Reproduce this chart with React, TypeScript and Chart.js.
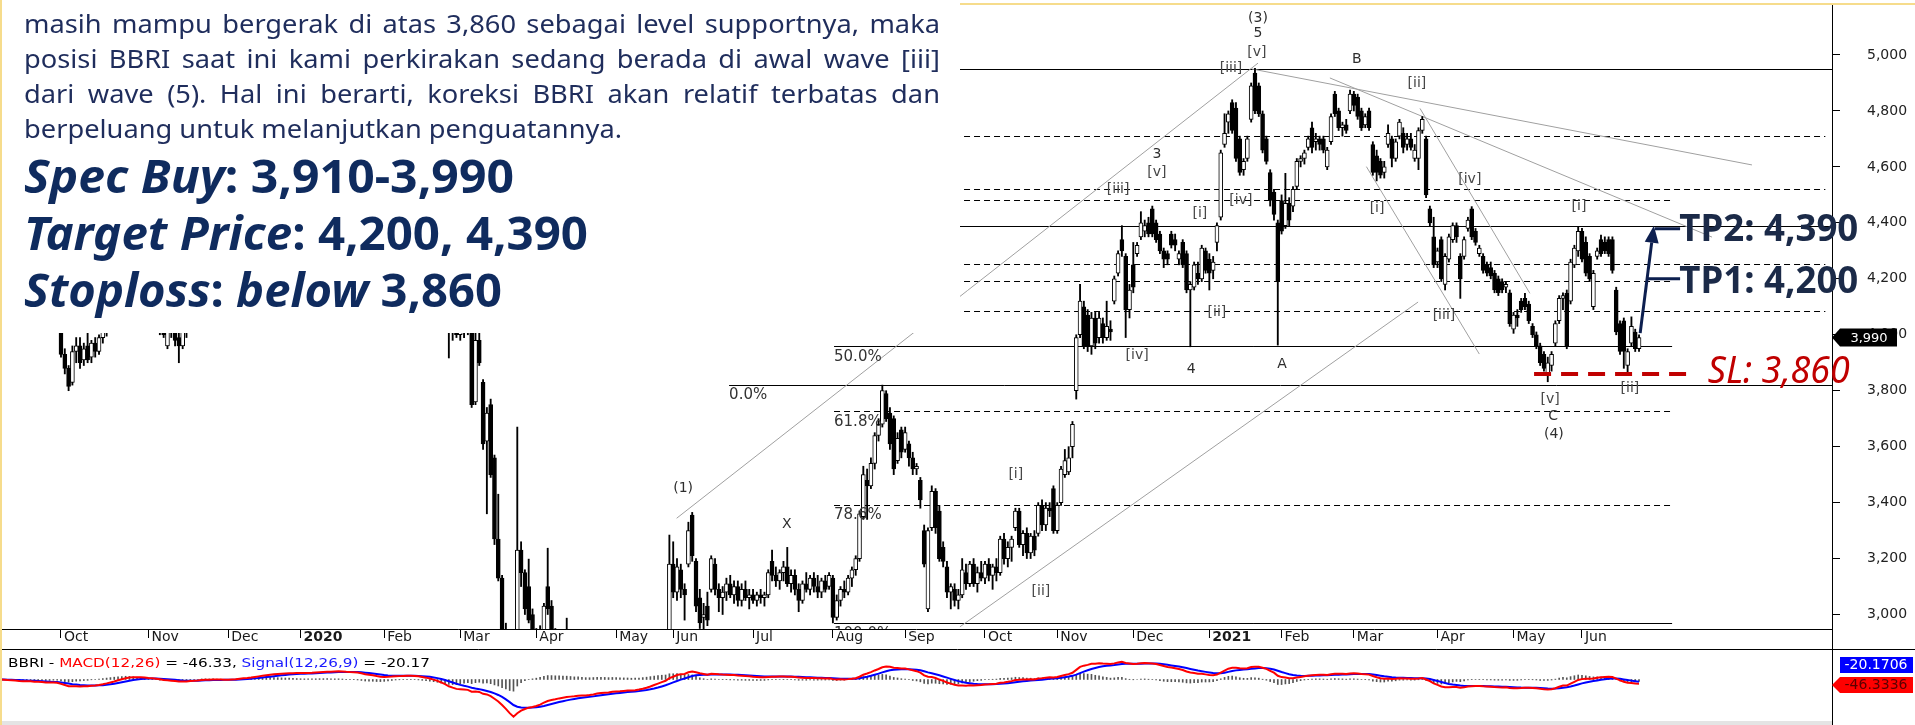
import React, { useEffect, useRef } from "react";
import { Chart, registerables } from "chart.js";
Chart.register(...registerables);

type Bar = [number, number, number, number]; // open, high, low, close

// ---------- DAILY OHLC ----------
const sep2019: Bar[] = [[4250,4290,4200,4270],[4270,4300,4220,4240],[4240,4280,4190,4210],[4210,4250,4170,4230],[4230,4260,4180,4190],[4190,4220,4130,4150],[4150,4200,4120,4180],[4180,4230,4150,4210],[4210,4240,4160,4170],[4170,4200,4120,4140],[4140,4180,4100,4160],[4160,4190,4110,4120],[4120,4150,4070,4090],[4090,4130,4050,4110],[4110,4150,4080,4130],[4130,4160,4070,4090]];
const oct2019: Bar[] = [[4080,4100,3920,3930],[3930,3950,3860,3880],[3880,3890,3800,3815],[3830,3960,3820,3940],[3940,3990,3900,3960],[3960,3990,3880,3900],[3910,3970,3890,3950],[3960,4010,3900,3910],[3920,3980,3900,3970],[3970,3990,3920,3940],[3940,4000,3930,3990],[3990,4030,3970,4020],[4020,4080,3995,4060],[4060,4110,4040,4100],[4100,4150,4080,4130],[4130,4200,4110,4180],[4180,4230,4150,4210],[4210,4260,4180,4240],[4240,4270,4190,4220],[4220,4250,4160,4180],[4180,4220,4130,4150],[4150,4190,4100,4170],[4170,4200,4110,4130]];
const nov2019: Bar[] = [[4130,4160,4070,4090],[4090,4130,4050,4110],[4110,4140,4040,4060],[4060,4090,4000,4020],[4050,4080,3990,4000],[3960,4060,3950,4040],[4040,4070,3990,4010],[4010,4050,3960,3980],[3990,4030,3900,3960],[3960,4040,3950,4020],[4020,4060,3990,4040],[4040,4090,4020,4070],[4070,4110,4040,4060],[4060,4100,4030,4090],[4090,4140,4070,4120],[4120,4150,4080,4100],[4100,4130,4050,4070],[4070,4110,4040,4090],[4090,4120,4050,4060],[4060,4100,4030,4080],[4080,4110,4010,4030]];
const dec2019: Bar[] = [[4030,4080,4010,4060],[4060,4110,4040,4100],[4100,4140,4070,4120],[4120,4170,4100,4150],[4150,4190,4120,4170],[4170,4200,4130,4160],[4160,4210,4140,4200],[4200,4260,4180,4240],[4240,4290,4220,4270],[4270,4310,4240,4290],[4290,4330,4260,4300],[4300,4350,4280,4330],[4330,4370,4300,4350],[4350,4390,4320,4370],[4370,4400,4330,4360],[4360,4400,4330,4380],[4380,4420,4350,4400],[4400,4430,4370,4390],[4390,4420,4360,4400]];
const jan2020: Bar[] = [[4400,4440,4360,4410],[4410,4450,4380,4430],[4430,4480,4400,4460],[4460,4500,4430,4470],[4470,4520,4450,4510],[4510,4560,4480,4540],[4540,4580,4500,4550],[4550,4600,4520,4580],[4580,4620,4540,4560],[4560,4600,4520,4590],[4590,4640,4560,4620],[4620,4660,4580,4600],[4600,4640,4550,4570],[4570,4610,4530,4590],[4590,4630,4560,4610],[4610,4650,4570,4580],[4580,4610,4500,4520],[4520,4560,4460,4480],[4480,4540,4450,4520],[4520,4560,4480,4500],[4500,4540,4440,4460],[4460,4500,4410,4470]];
const feb2020: Bar[] = [[4470,4530,4440,4510],[4510,4570,4490,4550],[4550,4610,4530,4590],[4590,4640,4560,4620],[4620,4660,4580,4600],[4600,4640,4560,4620],[4620,4670,4590,4640],[4640,4680,4600,4620],[4620,4650,4570,4590],[4590,4620,4540,4560],[4560,4590,4500,4520],[4520,4560,4470,4490],[4490,4520,4420,4440],[4440,4470,4360,4380],[4380,4410,4290,4310],[4310,4340,4200,4220],[4220,4250,4110,4130],[4130,4150,3917,4010],[4010,4060,3980,4040],[4040,4080,3990,4000]];
const mar2020: Bar[] = [[4000,4100,3980,4080],[4080,4120,3990,4050],[4060,4090,4000,4030],[4020,4030,3740,3750],[3760,4010,3750,3980],[3980,4010,3890,3900],[3830,3840,3590,3610],[3620,3740,3360,3720],[3750,3770,3490,3500],[3560,3570,3250,3270],[3270,3430,3120,3130],[3130,3140,2800,2850],[2850,2969,2600,2650],[2600,2700,2350,2400],[2400,2500,2170,2300],[2500,3670,2480,3230],[3230,3260,3100,3150],[3150,3160,3000,3020],[3100,3198,2970,2980],[3000,3020,2850,2880]];
const apr2020: Bar[] = [[2880,2950,2800,2900],[2900,2960,2850,2940],[2900,3040,2880,3030],[3100,3237,3000,3020],[3030,3050,2900,2920],[2920,2950,2850,2880],[2880,2930,2820,2900],[2900,2940,2840,2860],[2870,2987,2830,2850],[2850,2900,2780,2800],[2800,2850,2740,2760],[2760,2820,2720,2790],[2790,2830,2700,2720],[2720,2780,2650,2680],[2680,2740,2620,2700],[2700,2760,2660,2730],[2730,2790,2690,2750],[2750,2800,2690,2710],[2710,2760,2650,2680],[2680,2730,2620,2650],[2650,2720,2610,2700]];
const may2020: Bar[] = [[2700,2750,2620,2640],[2640,2690,2580,2600],[2600,2660,2560,2630],[2630,2680,2590,2610],[2610,2650,2540,2560],[2560,2620,2520,2590],[2590,2640,2550,2620],[2620,2680,2590,2660],[2660,2720,2630,2700],[2700,2780,2680,2760],[2760,2830,2740,2810],[2810,2880,2790,2860],[2860,2930,2840,2900],[2900,2940,2870,2930],[2940,3284,2930,3180]];
const jun2020: Bar[] = [[3180,3260,3060,3080],[3080,3200,3050,3170],[3160,3180,3060,3090],[3090,3110,2980,3070],[3180,3330,3170,3300],[3355,3365,3190,3210],[3190,3200,3010,3030],[3060,3090,2950,2970],[2990,3040,2940,3000],[3030,3080,2960,2980],[3090,3210,3080,3200],[3180,3200,3070,3090],[3090,3110,3010,3060],[3060,3100,3000,3080],[3080,3130,3050,3110],[3110,3140,3060,3070],[3070,3120,3040,3100],[3100,3120,3030,3050],[3050,3110,3030,3090],[3090,3120,3050,3060],[3060,3090,3020,3070]];
const jul2020: Bar[] = [[3070,3090,3040,3050],[3050,3080,3030,3070],[3070,3090,3040,3060],[3060,3080,3030,3070],[3070,3160,3060,3150],[3190,3230,3120,3140],[3140,3170,3100,3120],[3120,3160,3090,3150],[3150,3190,3120,3170],[3170,3240,3100,3110],[3110,3160,3080,3140],[3140,3160,3070,3090],[3090,3110,3010,3050],[3050,3120,3040,3110],[3110,3150,3080,3090],[3090,3140,3070,3130],[3130,3150,3080,3100],[3100,3140,3060,3080],[3080,3130,3060,3120],[3120,3140,3080,3090],[3100,3150,3090,3140]];
const aug2020: Bar[] = [[3130,3140,2970,2990],[2990,3070,2980,3050],[3050,3100,3030,3090],[3090,3120,3060,3080],[3080,3140,3070,3130],[3130,3170,3100,3160],[3160,3210,3140,3200],[3200,3370,3190,3360],[3350,3530,3340,3500],[3480,3520,3340,3460],[3460,3560,3450,3540],[3540,3650,3520,3640],[3640,3700,3620,3680],[3680,3820,3670,3800],[3790,3800,3690,3700],[3720,3740,3590,3610],[3700,3710,3500,3520],[3550,3650,3540,3630],[3660,3670,3560,3580]];
const sep2020: Bar[] = [[3590,3670,3580,3650],[3610,3620,3530,3560],[3560,3580,3500,3520],[3520,3540,3500,3530],[3480,3490,3380,3410],[3300,3320,3170,3180],[3020,3310,3010,3300],[3310,3460,3300,3440],[3440,3450,3290,3310],[3370,3390,3190,3200],[3240,3260,3170,3190],[3170,3190,3060,3080],[3080,3110,3020,3100],[3090,3110,3030,3050],[3050,3090,3020,3070],[3070,3200,3060,3160],[3150,3180,3090,3110],[3110,3190,3100,3180],[3180,3200,3100,3110],[3110,3170,3080,3150],[3150,3190,3120,3130]];
const oct2020: Bar[] = [[3130,3190,3110,3180],[3180,3200,3120,3140],[3140,3180,3090,3170],[3170,3200,3120,3150],[3150,3280,3140,3270],[3270,3290,3180,3200],[3200,3260,3170,3240],[3240,3280,3190,3270],[3310,3380,3300,3370],[3370,3380,3240,3250],[3250,3300,3210,3290],[3290,3310,3200,3220],[3220,3290,3200,3280],[3280,3300,3210,3230],[3290,3400,3280,3390],[3390,3410,3300,3320],[3320,3400,3300,3380],[3380,3400,3350,3370],[3450,3460,3290,3300]];
const nov2020: Bar[] = [[3300,3400,3290,3390],[3400,3530,3390,3520],[3500,3590,3490,3550],[3510,3600,3500,3560],[3600,3690,3560,3680],[3800,4000,3770,3990],[4000,4180,3990,4120],[4100,4120,3950,3960],[4070,4090,3940,3960],[3960,4080,3930,4060],[4060,4080,3950,3970],[3990,4080,3970,4060],[4040,4060,3970,3990],[3990,4120,3980,4030],[4020,4050,3980,4010],[4120,4210,4110,4200],[4220,4300,4210,4290],[4340,4390,4280,4300],[4280,4290,3990,4090],[4090,4180,4060,4160]];
const dec2020: Bar[] = [[4250,4330,4150,4170],[4290,4330,4280,4320],[4350,4440,4340,4400],[4370,4410,4350,4390],[4400,4420,4350,4360],[4450,4460,4350,4360],[4400,4410,4330,4340],[4360,4370,4290,4300],[4300,4310,4240,4270],[4290,4300,4250,4270],[4360,4370,4310,4320],[4340,4360,4300,4320],[4270,4300,4250,4290],[4330,4340,4240,4250],[4290,4300,4150,4160],[4160,4190,3957,4180],[4170,4260,4160,4250],[4220,4260,4180,4200],[4200,4320,4190,4310],[4300,4310,4220,4230]];
const jan2021: Bar[] = [[4270,4290,4160,4220],[4230,4280,4200,4260],[4330,4400,4300,4390],[4420,4660,4410,4650],[4680,4790,4670,4720],[4760,4800,4720,4790],[4830,4840,4720,4730],[4810,4830,4620,4630],[4700,4710,4570,4580],[4590,4630,4570,4620],[4630,4710,4620,4700],[4770,4900,4760,4890],[4935,4952,4790,4800],[4890,4900,4780,4790],[4790,4800,4650,4660],[4700,4710,4610,4620],[4580,4590,4460,4480],[4510,4520,4410,4430],[4400,4410,3963,4190]];
const feb2021: Bar[] = [[4480,4500,4360,4370],[4390,4577,4380,4470],[4470,4490,4390,4410],[4460,4530,4440,4520],[4530,4630,4520,4620],[4620,4640,4600,4630],[4630,4660,4610,4650],[4670,4710,4660,4700],[4740,4760,4650,4670],[4690,4720,4660,4700],[4700,4710,4660,4680],[4700,4710,4650,4660],[4600,4670,4590,4660],[4690,4790,4680,4780],[4860,4870,4780,4790],[4800,4810,4730,4740],[4740,4760,4710,4750],[4750,4770,4720,4730],[4800,4875,4790,4860]];
const mar2021: Bar[] = [[4860,4870,4800,4820],[4850,4860,4770,4780],[4800,4810,4730,4740],[4750,4790,4740,4780],[4800,4810,4730,4740],[4680,4690,4570,4580],[4640,4660,4550,4580],[4620,4630,4560,4570],[4580,4620,4560,4600],[4680,4750,4670,4720],[4700,4710,4600,4630],[4630,4700,4620,4690],[4710,4770,4700,4760],[4720,4740,4650,4670],[4680,4720,4660,4700],[4700,4720,4660,4670],[4630,4680,4620,4660],[4630,4740,4590,4730],[4730,4780,4720,4770],[4700,4710,4490,4500],[4450,4460,4390,4400],[4350,4420,4240,4250]];
const apr2021: Bar[] = [[4260,4310,4240,4300],[4340,4350,4190,4200],[4180,4290,4160,4280],[4270,4360,4260,4350],[4340,4400,4330,4390],[4390,4400,4330,4350],[4280,4290,4130,4200],[4280,4350,4270,4340],[4380,4420,4370,4410],[4450,4458,4340,4350],[4370,4380,4320,4330],[4290,4320,4280,4310],[4280,4290,4220,4230],[4250,4260,4210,4220],[4240,4260,4200,4210],[4220,4230,4150,4160],[4200,4210,4140,4150],[4190,4200,4150,4160],[4170,4190,4150,4180],[4150,4160,4030,4040]];
const may2021: Bar[] = [[4020,4080,4005,4070],[4070,4090,4030,4060],[4120,4130,4080,4090],[4130,4148,4090,4100],[4110,4120,4040,4050],[4030,4040,3990,4000],[4000,4010,3950,3960],[3960,3970,3890,3900],[3930,3940,3870,3880],[3860,3920,3832,3900],[3890,3940,3870,3930],[3970,4050,3960,4040],[4050,4140,4040,4130],[4130,4150,4090,4140],[4148,4160,3950,3960],[4120,4270,4110,4260],[4250,4320,4240,4310],[4300,4386,4280,4370]];
const jun2021: Bar[] = [[4370,4380,4260,4270],[4330,4350,4210,4220],[4280,4290,4190,4200],[4100,4230,4090,4220],[4280,4310,4270,4300],[4340,4356,4280,4290],[4330,4350,4290,4300],[4340,4350,4280,4290],[4340,4350,4220,4230],[4160,4170,4000,4010],[4040,4050,3930,3940],[4050,4060,3880,3940],[3890,3950,3868,3940],[3970,4064,3960,4030],[4010,4020,3940,3950],[3950,4000,3940,3990]];

const monthBlocks: Bar[][] = [sep2019, oct2019, nov2019, dec2019, jan2020, feb2020, mar2020, apr2020, may2020, jun2020, jul2020, aug2020, sep2020, oct2020, nov2020, dec2020, jan2021, feb2021, mar2021, apr2021, may2021, jun2021];
const monthNames = ["Sep", "Oct", "Nov", "Dec", "2020", "Feb", "Mar", "Apr", "May", "Jun", "Jul", "Aug", "Sep", "Oct", "Nov", "Dec", "2021", "Feb", "Mar", "Apr", "May", "Jun"];
const firstIndex = -16; // first trading day shown (Sep 2019, left of the Oct tick)
const priceTicks = [3000, 3200, 3400, 3600, 3800, 4000, 4200, 4400, 4600, 4800, 5000];
const lastPriceLabel = "3,990";

// Fibonacci retracement (Sep 2020 low -> Jan 2021 high)
const fibLow = 2969;
const fibHigh = 4950;
const fibRatios = [0, 0.236, 0.382, 0.5, 0.618, 0.786, 1];
const fibNames = ["0.0%", "23.6%", "38.2%", "50.0%", "61.8%", "78.6%", "100.0%"];
const fibStartIdx = 203.3;
const fibEndIdx = 423.7;
const secondFib = { price: 3820, idx: 175.7, name: "0.0%" };
const solidLevels = [4390];
const dashedLevels = [4710, 4520, 4253, 4085];

// trend lines: [idx1, price1, idx2, price2]
const trendLines: number[][] = [
  [161.9, 3344, 314.8, 4971],
  [236.4, 2956, 356.9, 4117],
  [313.2, 4950, 444.7, 4607],
  [333.7, 4918, 434.2, 4349],
  [343.3, 4601, 373.0, 3931],
  [357.4, 4809, 386.3, 4148],
];

// Elliott wave labels: [text, idx, price]
const waveLabels: [string, number, number][] = [
  ["(1)", 163.6, 3452], ["X", 190.9, 3323], ["[i]", 251.1, 3502], ["[ii]", 257.7, 3084],
  ["[iii]", 278, 4521], ["3", 288.2, 4646], ["[v]", 288.2, 4582], ["[iv]", 283, 3927], ["4", 297.2, 3877],
  ["[i]", 299.5, 4435], ["[ii]", 304, 4081], ["[iii]", 307.7, 4954], ["[iv]", 310.3, 4482],
  ["(3)", 314.8, 5132], ["5", 314.8, 5079], ["[v]", 314.5, 5011],
  ["A", 321.1, 3895], ["B", 340.8, 4986], ["[i]", 346.1, 4453], ["[ii]", 356.6, 4900],
  ["[iii]", 363.7, 4070], ["[iv]", 370.5, 4557], ["[v]", 391.6, 3770], ["C", 392.4, 3709],
  ["(4)", 392.6, 3645], ["[i]", 399.2, 4460], ["[ii]", 412.6, 3809],
];

const tp1 = 4200;
const tp2 = 4390;
const stopLoss = 3860;
const arrowFrom = [415.3, 4006];

const paragraph = [
  "masih mampu bergerak di atas 3,860 sebagai level supportnya, maka",
  "posisi BBRI saat ini kami perkirakan sedang berada di awal wave [iii]",
  "dari wave (5). Hal ini berarti, koreksi BBRI akan relatif terbatas dan",
  "berpeluang untuk melanjutkan penguatannya.",
];

const macdLegend: [string, string][] = [
  ["BBRI - ", "#000"], ["MACD(12,26)", "#ff0000"], [" = -46.33, ", "#000"], ["Signal(12,26,9)", "#1a1aff"], [" = -20.17", "#000"],
];
const macdValueLabel = "-46.3336";
const signalValueLabel = "-20.1706";

// ---------- derived ----------
type Row = { i: number; o: number; h: number; l: number; c: number };
const rows: Row[] = [];
const monthStart: number[] = [];
{
  let k = firstIndex;
  monthBlocks.forEach((b) => {
    monthStart.push(k);
    b.forEach((r) => {
      rows.push({ i: k, o: r[0], h: r[1], l: r[2], c: r[3] });
      k++;
    });
  });
}
const tickIdx = monthStart.slice(1);
const tickNames = monthNames.slice(1);

function ema(vals: number[], n: number) {
  const k = 2 / (n + 1);
  const out: number[] = [];
  let e = vals[0];
  vals.forEach((v, i) => {
    e = i === 0 ? v : v * k + e * (1 - k);
    out.push(e);
  });
  return out;
}
const closes = rows.map((r) => r.c);
const e12 = ema(closes, 12);
const e26 = ema(closes, 26);
const macd = e12.map((v, i) => v - e26[i]);
const signal = ema(macd, 9);
const hist = macd.map((v, i) => v - signal[i]);

const X_MIN = -16.04;
const X_MAX = 465.75;
const Y_MIN = 2948.2;
const Y_MAX = 5168;

const NAVY = "#0f2b5e";
const PARA = "#1f2d5c";

function fitRun(ctx: CanvasRenderingContext2D, segs: [string, string, string?][], x: number, y: number, width: number, color: string) {
  let total = 0;
  const ws = segs.map((s) => {
    ctx.font = s[1];
    const w = ctx.measureText(s[0]).width;
    total += w;
    return w;
  });
  const sx = width / total;
  ctx.save();
  ctx.translate(x, y);
  ctx.scale(sx, 1);
  ctx.textAlign = "left";
  ctx.textBaseline = "alphabetic";
  let cx = 0;
  segs.forEach((s, i) => {
    ctx.font = s[1];
    ctx.fillStyle = s[2] || color;
    ctx.fillText(s[0], cx, 0);
    cx += ws[i];
  });
  ctx.restore();
}

const noPad = (s: any) => {
  s.paddingTop = 0;
  s.paddingBottom = 0;
  s.paddingLeft = 0;
  s.paddingRight = 0;
};

const pricePlugin = {
  id: "priceDecor",
  beforeDatasetsDraw(chart: any) {
    const { ctx, chartArea: a, scales } = chart;
    const X = (v: number) => scales.x.getPixelForValue(v);
    const Y = (v: number) => scales.y.getPixelForValue(v);
    ctx.save();
    ctx.beginPath();
    ctx.rect(a.left, a.top, a.right - a.left, a.bottom - a.top);
    ctx.clip();
    const hline = (p: number, i1: number, i2: number, dashed: boolean) => {
      const y = Math.round(Y(p)) + 0.5;
      ctx.setLineDash(dashed ? [6, 4] : []);
      ctx.strokeStyle = "#000";
      ctx.lineWidth = 1;
      ctx.beginPath();
      ctx.moveTo(X(i1), y);
      ctx.lineTo(Math.min(X(i2), a.right), y);
      ctx.stroke();
    };
    fibRatios.forEach((r) => {
      const p = fibHigh - r * (fibHigh - fibLow);
      const dashed = !(r === 0 || r === 0.5 || r === 1);
      hline(p, fibStartIdx, r === 0 ? X_MAX : fibEndIdx, dashed);
    });
    hline(secondFib.price, secondFib.idx, X_MAX, false);
    solidLevels.forEach((p) => hline(p, fibStartIdx, X_MAX, false));
    dashedLevels.forEach((p) => hline(p, fibStartIdx, 464, true));
    ctx.setLineDash([]);
    ctx.strokeStyle = "#a0a0a0";
    ctx.lineWidth = 1;
    trendLines.forEach((t) => {
      ctx.beginPath();
      ctx.moveTo(X(t[0]), Y(t[1]));
      ctx.lineTo(X(t[2]), Y(t[3]));
      ctx.stroke();
    });
    ctx.restore();
  },
  afterDatasetsDraw(chart: any) {
    const { ctx, chartArea: a, scales } = chart;
    const X = (v: number) => scales.x.getPixelForValue(v);
    const Y = (v: number) => scales.y.getPixelForValue(v);
    ctx.save();
    ctx.beginPath();
    ctx.rect(a.left, a.top, a.right - a.left, a.bottom - a.top);
    ctx.clip();
    // fib labels
    ctx.font = '15px "DejaVu Sans"';
    ctx.fillStyle = "#333";
    ctx.textAlign = "left";
    ctx.textBaseline = "middle";
    fibRatios.forEach((r, k) => {
      const p = fibHigh - r * (fibHigh - fibLow);
      ctx.fillText(fibNames[k], X(fibStartIdx), Y(p) + 11);
    });
    ctx.fillText(secondFib.name, X(secondFib.idx), Y(secondFib.price) + 10);
    // wave labels
    ctx.font = '14px "DejaVu Sans"';
    ctx.textAlign = "center";
    waveLabels.forEach(([t, i, p]) => {
      ctx.fillStyle = t.startsWith("[") ? "#474747" : "#2e2e2e";
      ctx.fillText(t, X(i), Y(p));
    });
    ctx.restore();
    // stop loss dashed line
    ctx.save();
    ctx.strokeStyle = "#c00000";
    ctx.lineWidth = 4;
    ctx.setLineDash([17, 10]);
    ctx.beginPath();
    ctx.moveTo(X(387.4), Y(stopLoss));
    ctx.lineTo(X(428.7), Y(stopLoss));
    ctx.stroke();
    ctx.restore();
    // arrow to targets
    ctx.save();
    const x1 = X(arrowFrom[0]), y1 = Y(arrowFrom[1]);
    const x2 = X(418.9), y2 = Y(tp2);
    const dx = x2 - x1, dy = y2 - y1;
    const len = Math.hypot(dx, dy);
    const ux = dx / len, uy = dy / len;
    const bx = x2 - ux * 17, by = y2 - uy * 17;
    ctx.strokeStyle = "#0d1f4f";
    ctx.fillStyle = "#0d1f4f";
    ctx.lineWidth = 3;
    ctx.beginPath();
    ctx.moveTo(x1, y1);
    ctx.lineTo(bx, by);
    ctx.stroke();
    ctx.beginPath();
    ctx.moveTo(x2, y2);
    ctx.lineTo(bx - uy * 7, by + ux * 7);
    ctx.lineTo(bx + uy * 7, by - ux * 7);
    ctx.closePath();
    ctx.fill();
    const t1 = (tp1 - arrowFrom[1]) / (tp2 - arrowFrom[1]);
    ctx.beginPath();
    ctx.moveTo(x1 + dx * t1, Y(tp1));
    ctx.lineTo(X(425.8), Y(tp1));
    ctx.moveTo(x2 + 1, Y(tp2) + 3);
    ctx.lineTo(X(425.8), Y(tp2) + 3);
    ctx.stroke();
    ctx.restore();
  },
  afterDraw(chart: any) {
    const { ctx, chartArea: a, scales } = chart;
    const X = (v: number) => scales.x.getPixelForValue(v);
    const Y = (v: number) => scales.y.getPixelForValue(v);
    ctx.save();
    // full-height axis line and separator
    ctx.strokeStyle = "#000";
    ctx.lineWidth = 1;
    ctx.beginPath();
    ctx.moveTo(Math.round(a.right) + 0.5, 5);
    ctx.lineTo(Math.round(a.right) + 0.5, 650);
    ctx.moveTo(0, 649.5);
    ctx.lineTo(1915, 649.5);
    ctx.stroke();
    // last price box
    const yc = Y(3990);
    ctx.fillStyle = "#000";
    ctx.beginPath();
    ctx.moveTo(a.right, yc);
    ctx.lineTo(a.right + 8, yc - 9);
    ctx.lineTo(a.right + 65, yc - 9);
    ctx.lineTo(a.right + 65, yc + 9);
    ctx.lineTo(a.right + 8, yc + 9);
    ctx.closePath();
    ctx.fill();
    ctx.fillStyle = "#fff";
    ctx.font = '13px "DejaVu Sans"';
    ctx.textAlign = "center";
    ctx.textBaseline = "middle";
    ctx.fillText(lastPriceLabel, a.right + 37, yc + 1);

    // text box
    ctx.fillStyle = "#fff";
    ctx.fillRect(0, 0, 960, 333);
    ctx.fillStyle = PARA;
    ctx.font = '25px "Noto Sans"';
    ctx.textAlign = "left";
    ctx.textBaseline = "alphabetic";
    const lastW = ctx.measureText(paragraph[3]).width;
    const sx = 598 / lastW;
    const baselines = [33, 68, 103, 138];
    paragraph.forEach((line, li) => {
      const words = line.split(" ");
      const ws = words.map((w) => ctx.measureText(w).width * sx);
      const sum = ws.reduce((p, q) => p + q, 0);
      const spaceW = ctx.measureText(" ").width * sx;
      const gap = li === 3 ? spaceW : (916 - sum) / (words.length - 1);
      let cx = 24;
      words.forEach((w, wi) => {
        ctx.save();
        ctx.translate(cx, baselines[li]);
        ctx.scale(sx, 1);
        ctx.fillText(w, 0, 0);
        ctx.restore();
        cx += ws[wi] + gap;
      });
    });
    const bi = 'italic 700 46px "Noto Sans"';
    const b = '700 46px "Noto Sans"';
    fitRun(ctx, [["Spec Buy", bi], [": 3,910-3,990", b]], 24, 193, 490, NAVY);
    fitRun(ctx, [["Target Price", bi], [": 4,200, 4,390", b]], 24, 250, 564, NAVY);
    fitRun(ctx, [["Stoploss", bi], [": ", b], ["below", bi], [" 3,860", b]], 24, 307, 478, NAVY);

    // targets & stop loss text
    fitRun(ctx, [["TP2: 4,390", '700 38px "Noto Sans"']], X(425.6), Y(tp2) + 15, 179, "#1b2a48");
    fitRun(ctx, [["TP1: 4,200", '700 38px "Noto Sans"']], X(425.6), Y(tp1) + 14, 179, "#1b2a48");
    fitRun(ctx, [["SL: 3,860", 'italic 400 38px "Noto Sans"']], X(433.1), Y(stopLoss) + 9, 142, "#c00000");

    // page frame (yellow)
    ctx.fillStyle = "#f6dc8c";
    ctx.fillRect(960, 3, 955, 2);
    ctx.fillRect(0, 0, 2, 650);
    ctx.restore();
  },
};

const macdPlugin = {
  id: "macdDecor",
  afterDraw(chart: any) {
    const { ctx, chartArea: a } = chart;
    ctx.save();
    ctx.strokeStyle = "#000";
    ctx.lineWidth = 1;
    ctx.beginPath();
    ctx.moveTo(Math.round(a.right) + 0.5, 0);
    ctx.lineTo(Math.round(a.right) + 0.5, 75);
    ctx.stroke();
    fitRun(ctx, macdLegend.map(([t, c]) => [t, '13px "DejaVu Sans"', c] as [string, string, string]), 8, 17, 422, "#000");
    // value boxes
    ctx.font = '14px "DejaVu Sans"';
    ctx.textAlign = "center";
    ctx.textBaseline = "middle";
    ctx.fillStyle = "#0000ff";
    ctx.fillRect(a.right + 8, 7, 73, 16);
    ctx.fillStyle = "#fff";
    ctx.fillText(signalValueLabel, a.right + 44, 15.5);
    ctx.fillStyle = "#ff0000";
    ctx.beginPath();
    ctx.moveTo(a.right, 35);
    ctx.lineTo(a.right + 8, 27);
    ctx.lineTo(a.right + 81, 27);
    ctx.lineTo(a.right + 81, 43);
    ctx.lineTo(a.right + 8, 43);
    ctx.closePath();
    ctx.fill();
    ctx.fillStyle = "#5a0000";
    ctx.fillText(macdValueLabel, a.right + 44, 35.5);
    ctx.fillStyle = "#e4e4e4";
    ctx.fillRect(0, 71, a.right, 4);
    ctx.fillStyle = "#f6dc8c";
    ctx.fillRect(0, 0, 2, 75);
    ctx.restore();
  },
};

export default function App() {
  const priceRef = useRef<HTMLCanvasElement>(null);
  const macdRef = useRef<HTMLCanvasElement>(null);

  useEffect(() => {
    const price = new Chart(priceRef.current as HTMLCanvasElement, {
      type: "bar",
      data: {
        datasets: [
          {
            label: "body",
            data: rows.map((r) => ({ x: r.i, y: [Math.min(r.o, r.c), Math.max(r.o, r.c)] })) as any,
            backgroundColor: rows.map((r) => (r.c >= r.o ? "#ffffff" : "#000000")),
            borderColor: "#000",
            borderWidth: 1,
            borderSkipped: false,
            barThickness: 4,
            minBarLength: 1,
            grouped: false,
            order: 0,
          } as any,
          {
            label: "wick",
            data: rows.map((r) => ({ x: r.i, y: [r.l, r.h] })) as any,
            backgroundColor: "#000",
            borderWidth: 0,
            barThickness: 1.2,
            grouped: false,
            order: 1,
          } as any,
        ],
      },
      options: {
        animation: false,
        responsive: false,
        maintainAspectRatio: false,
        events: [],
        layout: { padding: { top: 8, left: 0, right: 0, bottom: 0 } },
        plugins: { legend: { display: false }, tooltip: { enabled: false } },
        scales: {
          x: {
            type: "linear",
            min: X_MIN,
            max: X_MAX,
            offset: false,
            grid: { display: true, drawOnChartArea: false, drawTicks: true, tickLength: 9, color: "#000", offset: false },
            border: { display: true, color: "#000", width: 1 },
            ticks: {
              autoSkip: false,
              maxRotation: 0,
              minRotation: 0,
              align: "start",
              labelOffset: 3,
              padding: -9,
              color: "#1a1a1a",
              font: (c: any) => ({ family: "DejaVu Sans", size: 14, weight: /^\d{4}$/.test(tickNames[c.index] || "") ? "bold" : "normal" }),
              callback: (_v: any, i: number) => tickNames[i],
            },
            afterBuildTicks: (s: any) => {
              s.ticks = tickIdx.map((v) => ({ value: v }));
            },
            afterFit: (s: any) => {
              s.height = 21;
              noPad(s);
            },
          } as any,
          y: {
            type: "linear",
            position: "right",
            min: Y_MIN,
            max: Y_MAX,
            grid: { display: true, drawOnChartArea: false, drawTicks: true, tickLength: 8, color: "#000" },
            border: { display: true, color: "#000" },
            ticks: {
              padding: 27,
              crossAlign: "near",
              color: "#222",
              font: { family: "DejaVu Sans", size: 14 },
              callback: (v: any) => Number(v).toLocaleString("en-US"),
            },
            afterBuildTicks: (s: any) => {
              s.ticks = priceTicks.map((v) => ({ value: v }));
            },
            afterFit: (s: any) => {
              s.width = 83;
              noPad(s);
            },
          } as any,
        },
      },
      plugins: [pricePlugin],
    });

    const macdMin = Math.min(...macd);
    const ppu = (716.7 - 679.5) / -macdMin;
    const yMax = (679.5 - 650) / ppu;
    const yMin = -(720 - 679.5) / ppu;

    const macdChart = new Chart(macdRef.current as HTMLCanvasElement, {
      type: "bar",
      data: {
        datasets: [
          {
            type: "line",
            data: rows.map((r, k) => ({ x: r.i, y: macd[k] })),
            borderColor: "#ff0000",
            borderWidth: 2,
            pointRadius: 0,
            order: 0,
          } as any,
          {
            type: "line",
            data: rows.map((r, k) => ({ x: r.i, y: signal[k] })),
            borderColor: "#0000ff",
            borderWidth: 2,
            pointRadius: 0,
            order: 1,
          } as any,
          {
            type: "bar",
            data: rows.map((r, k) => ({ x: r.i, y: hist[k] })),
            backgroundColor: "#555",
            barThickness: 1,
            order: 2,
          } as any,
        ],
      },
      options: {
        animation: false,
        responsive: false,
        maintainAspectRatio: false,
        events: [],
        layout: { padding: { top: 0, left: 0, right: 0, bottom: 5 } },
        plugins: { legend: { display: false }, tooltip: { enabled: false } },
        scales: {
          x: { type: "linear", min: X_MIN, max: X_MAX, offset: false, display: false } as any,
          y: {
            type: "linear",
            position: "right",
            min: yMin,
            max: yMax,
            grid: { display: false },
            border: { display: true, color: "#000" },
            ticks: { display: false },
            afterFit: (s: any) => {
              s.width = 83;
              noPad(s);
            },
          } as any,
        },
      },
      plugins: [macdPlugin],
    });

    return () => {
      price.destroy();
      macdChart.destroy();
    };
  }, []);

  return (
    <div style={{ position: "fixed", left: 0, top: 0, width: 1915, height: 725, background: "#fff", overflow: "hidden" }}>
      <canvas ref={priceRef} width={1915} height={650} style={{ position: "absolute", left: 0, top: 0, width: 1915, height: 650 }} />
      <canvas ref={macdRef} width={1915} height={75} style={{ position: "absolute", left: 0, top: 650, width: 1915, height: 75 }} />
    </div>
  );
}
